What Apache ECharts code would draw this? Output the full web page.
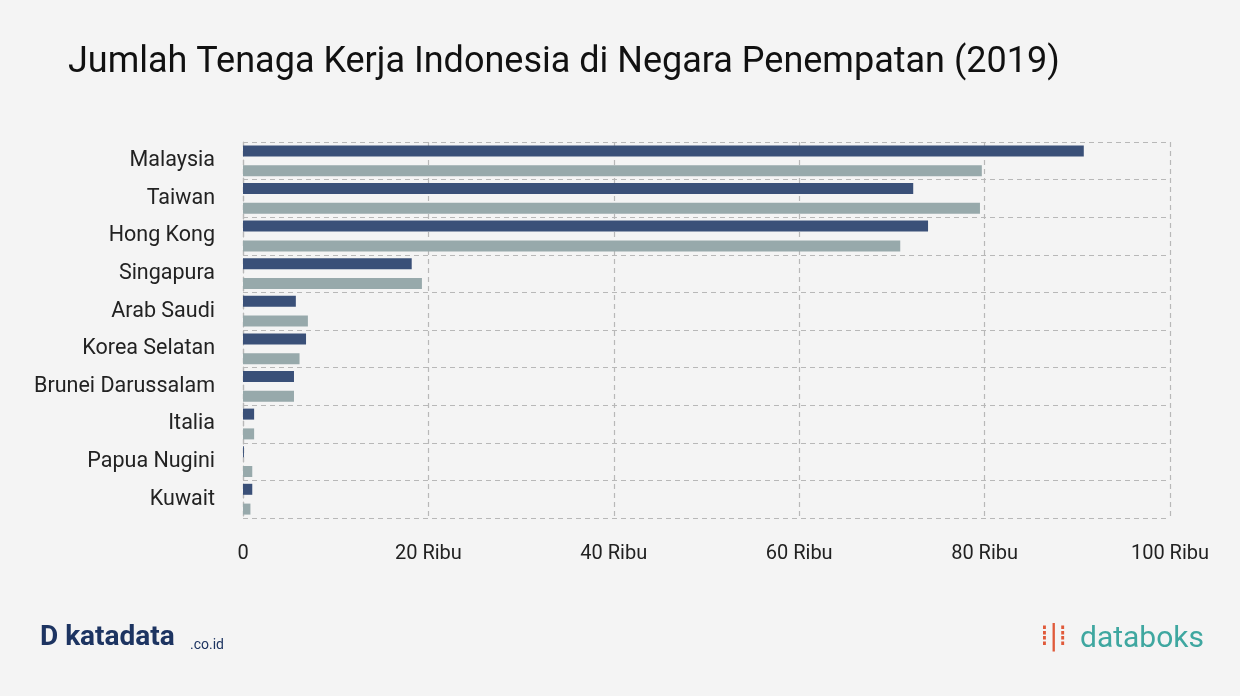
<!DOCTYPE html>
<html><head><meta charset="utf-8">
<script src="https://cdn.jsdelivr.net/npm/echarts@6/dist/echarts.min.js"></script>
<style>html,body{margin:0;background:#f4f4f4}#c{width:1240px;height:696px}</style>
</head><body><div id="c"></div>
<script>
const categories = ["Malaysia","Taiwan","Hong Kong","Singapura","Arab Saudi","Korea Selatan","Brunei Darussalam","Italia","Papua Nugini","Kuwait"];
const seriesA = [90700,72300,73900,18200,5700,6800,5500,1200,100,1000];
const seriesB = [79700,79500,70900,19300,7000,6100,5500,1200,1000,800];
const xTicks = {0:"0",20000:"20 Ribu",40000:"40 Ribu",60000:"60 Ribu",80000:"80 Ribu",100000:"100 Ribu"};
const chart = echarts.init(document.getElementById('c'));
const dash = {lineStyle:{type:[5,4],color:'#b8b8b8',width:1.2}};
chart.setOption({
  backgroundColor:'#f4f4f4',
  animation:false,
  title:{text:'Jumlah Tenaga Kerja Indonesia di Negara Penempatan (2019)',left:63,top:40,textStyle:{fontFamily:'Roboto',fontWeight:'normal',fontSize:36,color:'#111'}},
  grid:{left:243,right:70,top:142,bottom:178},
  xAxis:{type:'value',min:0,max:100000,interval:20000,
    axisLine:{show:false},axisTick:{show:false},
    splitLine:{show:true,...dash},
    axisLabel:{formatter:v=>xTicks[v],fontFamily:'Roboto',fontSize:20,color:'#222',margin:26}},
  yAxis:{type:'category',data:categories,inverse:true,
    axisLine:{show:true,...dash},axisTick:{show:false},
    splitLine:{show:true,...dash},
    axisLabel:{fontFamily:'Roboto',fontSize:21.5,color:'#222',margin:28}},
  series:[
    {type:'bar',data:seriesA,barWidth:11,barGap:'80%',itemStyle:{color:'#3a5078'}},
    {type:'bar',data:seriesB,barWidth:11,itemStyle:{color:'#97a9ab'}}
  ],
  graphic:[
    {type:'text',left:40,top:624,style:{text:'D katadata',fontFamily:'Roboto',fontWeight:'bold',fontSize:28,fill:'#1d3461'}},
    {type:'text',left:190,top:638,style:{text:'.co.id',fontFamily:'Roboto',fontSize:14,fill:'#1d3461'}},
    {type:'text',left:1080,top:624,style:{text:'databoks',fontFamily:'Roboto',fontSize:30,fill:'#3fa7a0'}},
    {type:'text',left:1040,top:624,style:{text:'⁞|⁞',fontFamily:'DejaVu Sans',fontSize:28,fill:'#e05a3a'}}
  ]
});
</script></body></html>
